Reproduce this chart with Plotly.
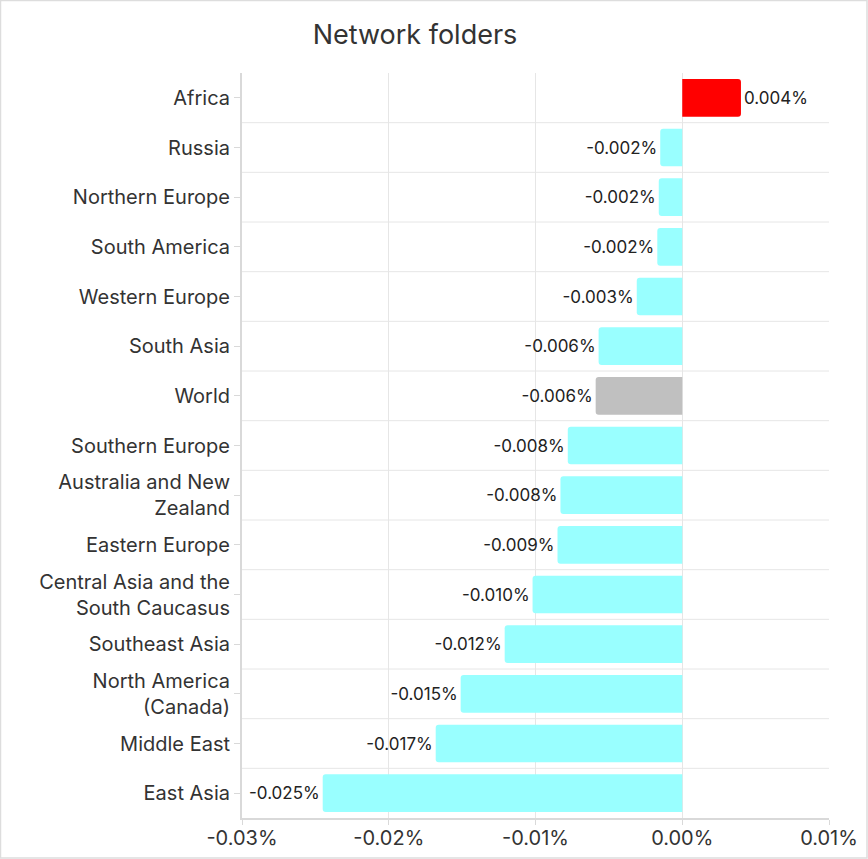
import plotly.graph_objects as go

regions = [
    "Africa", "Russia", "Northern Europe", "South America", "Western Europe",
    "South Asia", "World", "Southern Europe", "Australia and New<br>Zealand",
    "Eastern Europe", "Central Asia and the<br>South Caucasus", "Southeast Asia",
    "North America<br>(Canada)", "Middle East", "East Asia",
]
change = [
    0.0040, -0.0015, -0.0016, -0.0017, -0.0031,
    -0.0057, -0.0059, -0.0078, -0.0083,
    -0.0085, -0.0102, -0.0121,
    -0.0151, -0.0168, -0.0245,
]
tick_vals = [-0.03, -0.02, -0.01, 0.0, 0.01]

colors = []
for r, v in zip(regions, change):
    if r == "World":
        colors.append("#c0c0c0")
    elif v > 0:
        colors.append("#ff0000")
    else:
        colors.append("#99ffff")

font_family = "Inter, Lato, sans-serif"
text_color = "#333333"

fig = go.Figure()
fig.add_trace(go.Bar(
    y=regions, x=change, orientation="h",
    marker=dict(color=colors, line=dict(width=0), cornerradius=3),
    text=[f"{v:.3f}%" for v in change],
    textposition="outside", cliponaxis=False,
    textfont=dict(size=17, color="#222222", family=font_family),
    hoverinfo="skip",
))

# row separators between categories
shapes = []
for i in range(len(regions) - 1):
    shapes.append(dict(type="line", xref="paper", x0=0, x1=1, yref="y",
                       y0=i + 0.5, y1=i + 0.5,
                       line=dict(color="#e6e6e6", width=1), layer="below"))

# frame around the whole picture
ml, mr, mt, mb = 242, 39, 73, 41
pw, ph = 868 - ml - mr, 859 - mt - mb
shapes.append(dict(type="rect", xref="paper", yref="paper",
                   x0=-ml / pw + 0.5 / pw, x1=1 + mr / pw - 1 / pw,
                   y0=-mb / ph + 1 / ph, y1=1 + mt / ph - 0.5 / ph,
                   line=dict(color="#dddddd", width=1.5), fillcolor="rgba(0,0,0,0)"))

fig.update_layout(
    width=868, height=859, autosize=False,
    margin=dict(l=ml, r=mr, t=mt, b=mb),
    paper_bgcolor="white", plot_bgcolor="white",
    font=dict(family=font_family, color=text_color),
    title=dict(text="Network folders", x=415 / 868, xanchor="center",
               y=1 - 35 / 859, yanchor="middle",
               font=dict(size=27, color=text_color, family=font_family)),
    bargap=0.24,
    showlegend=False,
    shapes=shapes,
)
fig.update_xaxes(
    range=[-0.03, 0.01], tickvals=tick_vals,
    ticktext=[f"{v:.2f}%" for v in tick_vals],
    showgrid=True, gridcolor="#e6e6e6", gridwidth=1,
    zeroline=False, automargin=False,
    showline=True, linecolor="#d9d9d9", linewidth=2,
    ticks="outside", ticklen=5, tickcolor="#d9d9d9",
    ticklabelstandoff=-4,
    tickfont=dict(size=20, color=text_color),
)
fig.update_yaxes(
    autorange="reversed", automargin=False,
    showgrid=False, zeroline=False,
    showline=True, linecolor="#d9d9d9", linewidth=2,
    ticks="outside", ticklen=6, tickcolor="#d9d9d9",
    tickfont=dict(size=20, color=text_color),
)

fig.write_html("out.html",
               config={"displayModeBar": False, "responsive": False},
               post_script="document.body.style.margin='0';")
